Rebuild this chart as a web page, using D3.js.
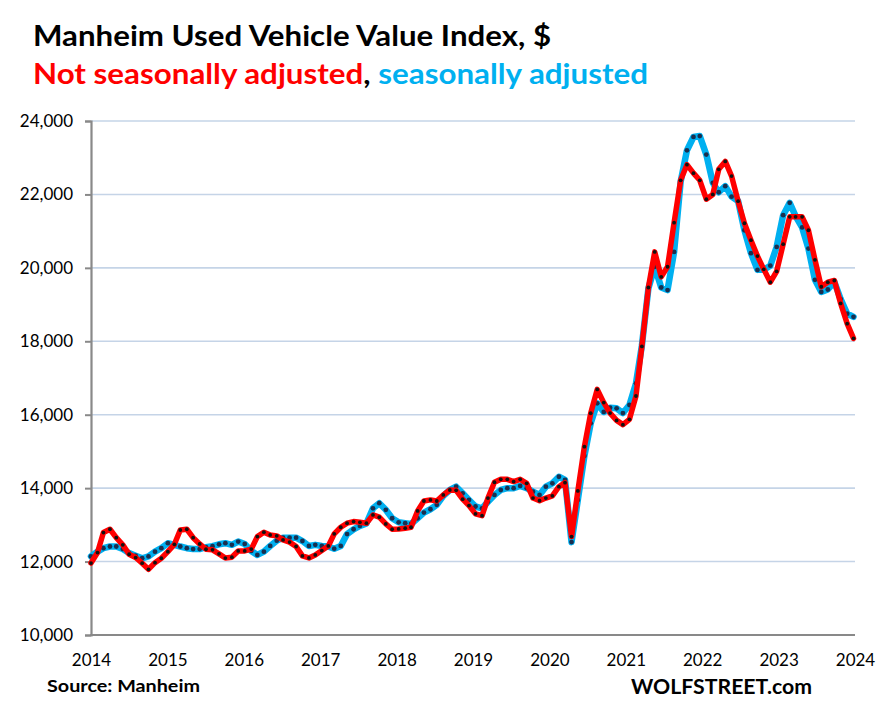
<!DOCTYPE html>
<html>
<head>
<meta charset="utf-8">
<script src="https://cdn.jsdelivr.net/npm/d3@7"></script>
<style>
  body { margin: 0; background: #fff; }
  svg { display: block; }
  text { font-family: Lato, "Open Sans", sans-serif; }
</style>
</head>
<body>
<div id="chart"></div>
<script>
// monthly readings, Jan 2014 .. Dec 2023
var start = new Date(2014, 0, 1);
var months = d3.timeMonth.range(start, new Date(2024, 0, 1));

var nsa = [
  11960, 12245, 12790, 12880, 12650, 12455, 12200, 12110, 11955, 11790, 11970, 12090,
  12270, 12470, 12860, 12880, 12650, 12480, 12335, 12320, 12210, 12095, 12120, 12290,
  12290, 12340, 12680, 12800, 12725, 12700, 12590, 12530, 12410, 12155, 12100, 12180,
  12300, 12425, 12755, 12935, 13045, 13090, 13070, 13045, 13270, 13210, 13025, 12880,
  12890, 12910, 12935, 13380, 13650, 13680, 13650, 13815, 13950, 13940, 13700, 13525,
  13300, 13250, 13730, 14160, 14240, 14240, 14180, 14240, 14130, 13730, 13660, 13730,
  13790, 14040, 14150, 12680, 13925, 15130, 16040, 16690, 16330, 16045, 15845, 15730,
  15875, 16510, 17860, 19465, 20435, 19755, 20030, 21230, 22385, 22810, 22580, 22385,
  21870, 22000, 22685, 22900, 22500, 21815, 21215, 20755, 20320, 19960, 19610, 19905,
  20645, 21390, 21390, 21390, 21025, 20220, 19485, 19610, 19655, 19030, 18480, 18080
];

var sa = [
  12140, 12270, 12365, 12410, 12410, 12340, 12230, 12160, 12090, 12140, 12270, 12365,
  12500, 12455, 12410, 12365, 12340, 12340, 12390, 12420, 12470, 12500, 12455, 12545,
  12480, 12290, 12180, 12270, 12425, 12570, 12650, 12650, 12650, 12560, 12425, 12455,
  12425, 12410, 12350, 12425, 12750, 12880, 12970, 13040, 13450, 13590, 13410, 13180,
  13070, 13045, 13025, 13180, 13335, 13425, 13545, 13790, 13950, 14040, 13860, 13680,
  13500, 13450, 13630, 13815, 13950, 14000, 14000, 14060, 14000, 13905, 13815, 14040,
  14130, 14310, 14225, 12530, 13680, 14875, 15765, 16310, 16075, 16190, 16175, 16045,
  16265, 16855, 17880, 19440, 20030, 19465, 19395, 20435, 22340, 23200, 23565, 23590,
  23085, 22315, 22060, 22225, 21940, 21820, 21025, 20400, 19945, 19950, 20060, 20570,
  21435, 21770, 21410, 21100, 20525, 19675, 19345, 19410, 19620, 19150, 18750, 18665
];

var yearLabels = [2014, 2015, 2016, 2017, 2018, 2019, 2020, 2021, 2022, 2023, 2024];
var yTicks = [10000, 12000, 14000, 16000, 18000, 20000, 22000, 24000];

var W = 884, H = 703;
var plotLeft = 91, plotRight = 855, plotTop = 121, plotBottom = 635;

var svg = d3.select("#chart").append("svg")
  .attr("width", W)
  .attr("height", H);

var x = d3.scaleTime()
  .domain([months[0], months[months.length - 1]])
  .range([plotLeft, 853.5]);

var xYear = d3.scaleLinear()
  .domain([2014, 2024])
  .range([plotLeft, plotRight]);

var y = d3.scaleLinear()
  .domain([10000, 24000])
  .range([plotBottom, plotTop]);

// gridlines
svg.append("g")
  .selectAll("line")
  .data(yTicks.slice(1))
  .enter().append("line")
  .attr("x1", plotLeft)
  .attr("x2", plotRight)
  .attr("y1", function (d) { return y(d); })
  .attr("y2", function (d) { return y(d); })
  .attr("stroke", "#c5d4e7")
  .attr("stroke-width", 1.6);

// y axis
var yAxis = svg.append("g")
  .attr("transform", "translate(" + plotLeft + ",0)")
  .call(d3.axisLeft(y).tickValues(yTicks).tickSize(6).tickPadding(12)
    .tickFormat(d3.format(",")));
yAxis.select(".domain").attr("stroke", "#898989").attr("stroke-width", 2.2);
yAxis.selectAll(".tick line").attr("stroke", "#898989").attr("stroke-width", 2);
yAxis.selectAll("text")
  .style("font-size", "17px")
  .attr("fill", "#000");

// x axis line + year labels
svg.append("line")
  .attr("x1", plotLeft - 1)
  .attr("x2", plotRight)
  .attr("y1", plotBottom)
  .attr("y2", plotBottom)
  .attr("stroke", "#898989")
  .attr("stroke-width", 2.2);

var xAxis = svg.append("g")
  .attr("transform", "translate(0," + plotBottom + ")")
  .call(d3.axisBottom(xYear).tickValues(yearLabels).tickSize(0).tickPadding(19)
    .tickFormat(d3.format("d")));
xAxis.select(".domain").remove();
xAxis.selectAll("text")
  .style("font-size", "17px")
  .attr("fill", "#000");

function drawSeries(values, color, width, dotColor, dotR) {
  var line = d3.line()
    .x(function (d, i) { return x(months[i]); })
    .y(function (d) { return y(d); });
  svg.append("path")
    .datum(values)
    .attr("d", line)
    .attr("fill", "none")
    .attr("stroke", color)
    .attr("stroke-width", width)
    .attr("stroke-linejoin", "round")
    .attr("stroke-linecap", "round");
  svg.append("g")
    .selectAll("circle")
    .data(values)
    .enter().append("circle")
    .attr("cx", function (d, i) { return x(months[i]); })
    .attr("cy", function (d) { return y(d); })
    .attr("r", dotR)
    .attr("fill", dotColor);
}

drawSeries(sa, "#00b0f0", 6.5, "#1a2f4f", 2.4);
drawSeries(nsa, "#ff0000", 5.5, "#111", 1.9);

// titles
svg.append("text")
  .attr("x", 33)
  .attr("y", 46)
  .attr("textLength", 518)
  .attr("lengthAdjust", "spacingAndGlyphs")
  .style("font-size", "28px")
  .style("font-weight", "bold")
  .text("Manheim Used Vehicle Value Index, $");

var sub = svg.append("text")
  .attr("x", 33)
  .attr("y", 84)
  .attr("textLength", 615)
  .attr("lengthAdjust", "spacingAndGlyphs")
  .style("font-size", "28px")
  .style("font-weight", "bold");
sub.append("tspan").attr("fill", "#ff0000").text("Not seasonally adjusted");
sub.append("tspan").attr("fill", "#000").text(", ");
sub.append("tspan").attr("fill", "#00b0f0").text("seasonally adjusted");

svg.append("text")
  .attr("x", 47)
  .attr("y", 692)
  .attr("textLength", 153)
  .attr("lengthAdjust", "spacingAndGlyphs")
  .style("font-size", "17px")
  .style("font-weight", "bold")
  .text("Source: Manheim");

svg.append("text")
  .attr("x", 631)
  .attr("y", 694)
  .attr("textLength", 181)
  .attr("lengthAdjust", "spacingAndGlyphs")
  .style("font-size", "21px")
  .style("font-weight", "bold")
  .text("WOLFSTREET.com");
</script>
</body>
</html>
